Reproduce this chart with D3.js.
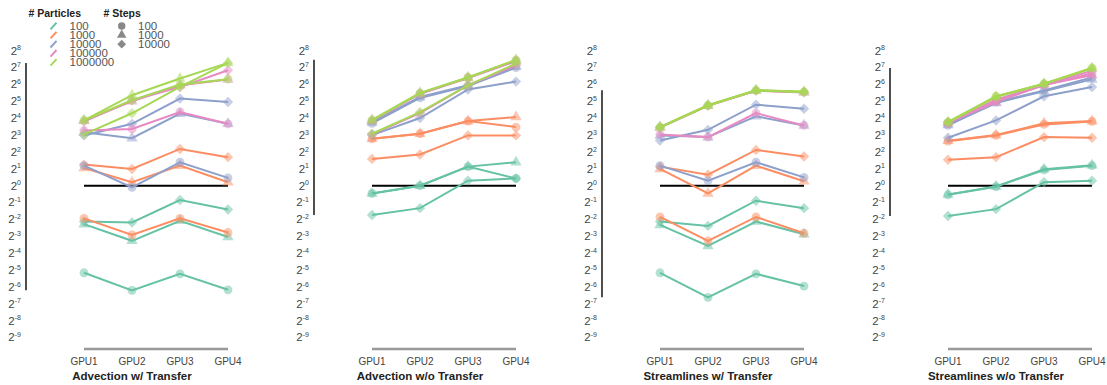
<!DOCTYPE html>
<html>
<head>
<meta charset="utf-8">
<script src="https://cdn.jsdelivr.net/npm/d3@7"></script>
<style>
  body { margin: 0; background: #fff; }
  svg { display: block; font-family: "Liberation Sans", Arial, sans-serif; }
</style>
</head>
<body>
<svg id="chart" width="1107" height="385"></svg>
<script>
// ---- data -------------------------------------------------------------
const gpus = ["GPU1", "GPU2", "GPU3", "GPU4"];
const particleCounts = [100, 1000, 10000, 100000, 1000000];
const stepCounts = [100, 1000, 10000];
const particleColors = ["#66c2a5", "#fc8d62", "#8da0cb", "#e78ac3", "#a6d854"];
const panelTitles = [
  "Advection w/ Transfer",
  "Advection w/o Transfer",
  "Streamlines w/ Transfer",
  "Streamlines w/o Transfer"
];
const yTickExponents = d3.range(8, -10, -1);

// rows: [particles, steps, GPU1, GPU2, GPU3, GPU4]
const advectionWithTransfer = [
  [100, 100, 0.0280, 0.0136, 0.0268, 0.0139],
  [100, 1000, 0.206, 0.104, 0.237, 0.122],
  [100, 10000, 0.230, 0.221, 0.555, 0.376],
  [1000, 100, 0.262, 0.132, 0.262, 0.146],
  [1000, 1000, 2.07, 1.15, 2.28, 1.15],
  [1000, 10000, 2.38, 1.99, 4.53, 3.23],
  [10000, 100, 2.28, 0.933, 2.62, 1.38],
  [10000, 1000, 9.00, 7.06, 19.3, 12.7],
  [10000, 10000, 7.89, 12.7, 35.8, 31.1],
  [100000, 100, 9.65, 10.3, 20.7, 12.7],
  [100000, 1000, 14.4, 32.0, 61.8, 78.8],
  [100000, 10000, 13.9, 33.4, 57.7, 115],
  [1000000, 100, 14.6, 33.4, 63.6, 79.3],
  [1000000, 1000, 14.6, 41.1, 81.6, 155],
  [1000000, 10000, 8.22, 19.6, 57.7, 155]
];

const advectionNoTransfer = [
  [100, 100, 0.727, 1.00, 2.19, 1.35],
  [100, 1000, 0.727, 1.00, 2.19, 2.62],
  [100, 10000, 0.301, 0.398, 1.23, 1.35],
  [1000, 100, 6.87, 8.46, 14.2, 11.1],
  [1000, 1000, 6.87, 8.46, 14.2, 16.8],
  [1000, 10000, 3.01, 3.61, 7.89, 7.89],
  [10000, 100, 13.0, 36.8, 59.7, 128],
  [10000, 1000, 13.5, 38.3, 61.8, 133],
  [10000, 10000, 8.00, 16.1, 52.0, 72.0],
  [100000, 100, 14.4, 43.7, 84.4, 169],
  [100000, 1000, 14.4, 43.7, 83.3, 167],
  [100000, 10000, 8.28, 19.7, 61.8, 141],
  [1000000, 100, 14.6, 44.9, 85.0, 174],
  [1000000, 1000, 14.9, 45.3, 85.6, 176],
  [1000000, 10000, 8.46, 20.5, 61.8, 151]
];

const streamlinesWithTransfer = [
  [100, 100, 0.0280, 0.0102, 0.0268, 0.0162],
  [100, 1000, 0.200, 0.0842, 0.230, 0.136],
  [100, 10000, 0.230, 0.192, 0.540, 0.398],
  [1000, 100, 0.277, 0.104, 0.277, 0.142],
  [1000, 1000, 1.99, 0.727, 2.28, 1.20],
  [1000, 10000, 2.19, 1.57, 4.35, 3.32],
  [10000, 100, 2.28, 1.23, 2.62, 1.41],
  [10000, 1000, 7.89, 7.36, 17.3, 11.9],
  [10000, 10000, 6.41, 9.92, 27.9, 23.6],
  [100000, 100, 8.22, 7.36, 19.7, 11.9],
  [100000, 1000, 10.9, 26.7, 49.5, 45.9],
  [100000, 10000, 11.0, 26.9, 49.9, 46.5],
  [1000000, 100, 11.1, 27.1, 50.2, 47.2],
  [1000000, 1000, 11.2, 27.3, 50.6, 47.5],
  [1000000, 10000, 11.0, 26.9, 49.9, 46.9]
];

const streamlinesNoTransfer = [
  [100, 100, 0.688, 0.959, 1.91, 2.28],
  [100, 1000, 0.697, 0.973, 1.96, 2.31],
  [100, 10000, 0.289, 0.382, 1.15, 1.23],
  [1000, 100, 6.23, 7.89, 12.4, 14.0],
  [1000, 1000, 6.32, 8.00, 13.0, 14.2],
  [1000, 10000, 2.89, 3.23, 7.36, 7.16],
  [10000, 100, 11.9, 31.1, 50.2, 85.0],
  [10000, 1000, 12.1, 29.9, 48.5, 78.8],
  [10000, 10000, 7.16, 14.6, 39.4, 57.7],
  [100000, 100, 13.0, 32.4, 61.8, 100],
  [100000, 1000, 13.2, 30.9, 63.1, 93.7],
  [100000, 10000, 13.5, 34.3, 64.0, 111],
  [1000000, 100, 13.6, 39.4, 66.3, 126],
  [1000000, 1000, 13.7, 38.9, 65.8, 125],
  [1000000, 10000, 13.5, 38.1, 65.4, 124]
];

const panelData = [advectionWithTransfer, advectionNoTransfer, streamlinesWithTransfer, streamlinesNoTransfer];

// ---- layout -----------------------------------------------------------
const panelWidth = 288;
const frameX = 26;
const tickLabelX = 21;
const xAxisY = 349;

const svg = d3.select("#chart");

const x = d3.scalePoint().domain(gpus).range([84, 228]);
const y = d3.scaleLog().base(2).domain([2 ** -9, 2 ** 8]).range([337.6, 50.7]);
const color = d3.scaleOrdinal().domain(particleCounts).range(particleColors);

const shapeType = d3.scaleOrdinal()
  .domain(stepCounts)
  .range([d3.symbolCircle, d3.symbolTriangle, d3.symbolSquare]);
const shapeSize = d3.scaleOrdinal().domain(stepCounts).range([62, 56, 54]);
const shapeRotate = d3.scaleOrdinal().domain(stepCounts).range([0, 0, 45]);

function markerPath(steps, scale) {
  return d3.symbol().type(shapeType(steps)).size(shapeSize(steps) * (scale || 1))();
}

const line = d3.line()
  .x(d => x(d.gpu))
  .y(d => y(d.value));

panelData.forEach((rows, pi) => {
  const g = svg.append("g").attr("transform", `translate(${pi * panelWidth},0)`);

  // y tick labels: powers of two
  yTickExponents.forEach(e => {
    const t = g.append("text")
      .attr("x", tickLabelX)
      .attr("y", y(2 ** e) + 3.8)
      .attr("text-anchor", "end")
      .attr("fill", "#444");
    t.append("tspan").attr("font-size", 11.5).text("2");
    t.append("tspan").attr("font-size", 7).attr("dy", -4.2).text(String(e));
  });

  const series = rows.map(r => ({
    particles: r[0],
    steps: r[1],
    points: gpus.map((gpu, i) => ({ gpu, value: r[2 + i] }))
  }));

  // range frame: y axis spans only the data extent
  const allValues = series.flatMap(s => s.points.map(p => p.value));
  const [vMin, vMax] = d3.extent(allValues);
  g.append("line")
    .attr("x1", frameX).attr("x2", frameX)
    .attr("y1", y(vMax)).attr("y2", y(vMin))
    .attr("stroke", "#222").attr("stroke-width", 1.6);

  // x axis baseline and labels
  g.append("line")
    .attr("x1", x(gpus[0])).attr("x2", x(gpus[gpus.length - 1]))
    .attr("y1", xAxisY).attr("y2", xAxisY)
    .attr("stroke", "#999").attr("stroke-width", 2.4);

  g.selectAll("text.gpu")
    .data(gpus)
    .join("text")
    .attr("class", "gpu")
    .attr("x", d => x(d))
    .attr("y", 364.5)
    .attr("text-anchor", "middle")
    .attr("font-size", 10)
    .attr("fill", "#444")
    .text(d => d);

  g.append("text")
    .attr("x", 132)
    .attr("y", 380)
    .attr("text-anchor", "middle")
    .attr("font-size", 11.5)
    .attr("font-weight", "bold")
    .attr("fill", "#222")
    .text(panelTitles[pi]);

  // reference line at 2^0
  g.append("line")
    .attr("x1", x(gpus[0])).attr("x2", x(gpus[gpus.length - 1]))
    .attr("y1", y(1)).attr("y2", y(1))
    .attr("stroke", "#000").attr("stroke-width", 2);

  // series lines with markers
  series.forEach(s => {
    const sg = g.append("g");
    sg.append("path")
      .attr("d", line(s.points))
      .attr("fill", "none")
      .attr("stroke", color(s.particles))
      .attr("stroke-width", 2);
    sg.selectAll("path.marker")
      .data(s.points)
      .join("path")
      .attr("class", "marker")
      .attr("d", markerPath(s.steps))
      .attr("transform", d => `translate(${x(d.gpu)},${y(d.value)}) rotate(${shapeRotate(s.steps)})`)
      .attr("fill", color(s.particles))
      .attr("fill-opacity", 0.5);
  });
});

// ---- legend -----------------------------------------------------------
const legend = svg.append("g");
legend.append("text")
  .attr("x", 28.5).attr("y", 16.5)
  .attr("font-size", 10.5).attr("font-weight", "bold").attr("fill", "#222")
  .text("# Particles");
legend.append("text")
  .attr("x", 103.5).attr("y", 16.5)
  .attr("font-size", 10.5).attr("font-weight", "bold").attr("fill", "#222")
  .text("# Steps");

const legendRowY = i => 26 + i * 9.1;

particleCounts.forEach((p, i) => {
  const cy = legendRowY(i);
  legend.append("line")
    .attr("x1", 50.5).attr("y1", cy + 3.3)
    .attr("x2", 56.5).attr("y2", cy - 3.3)
    .attr("stroke", color(p)).attr("stroke-width", 2);
  legend.append("text")
    .attr("x", 69.5).attr("y", cy + 4)
    .attr("font-size", 11.5).attr("fill", "#555")
    .text(String(p));
});

stepCounts.forEach((s, i) => {
  const cy = legendRowY(i);
  legend.append("path")
    .attr("d", markerPath(s, 0.7))
    .attr("transform", `translate(121.7,${cy}) rotate(${shapeRotate(s)})`)
    .attr("fill", "#888");
  legend.append("text")
    .attr("x", 138).attr("y", cy + 4)
    .attr("font-size", 11.5).attr("fill", "#555")
    .text(String(s));
});
</script>
</body>
</html>
